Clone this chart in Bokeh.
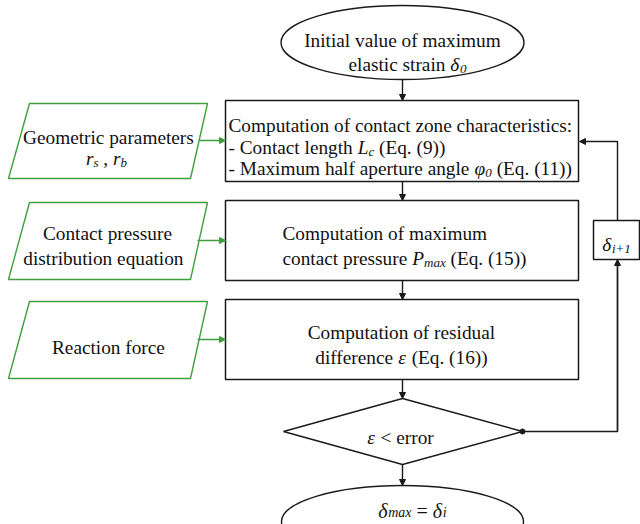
from bokeh.plotting import figure
from bokeh.models import Arrow, NormalHead, ColumnDataSource
from bokeh.core.properties import value
from bokeh.embed import file_html
from bokeh.resources import INLINE

# ---------------- content ----------------
# text segments: (text, style)  style: n = normal, i = italic, s = italic subscript
start_lines = [[("Initial value of maximum", "n")],
               [("elastic strain ", "n"), ("δ", "i"), ("0", "s")]]
box1_lines = [[("Computation of contact zone characteristics:", "n")],
              [("- Contact length ", "n"), ("L", "i"), ("c", "s"), (" (Eq. (9))", "n")],
              [("- Maximum half aperture angle ", "n"), ("φ", "i"), ("0", "s"), (" (Eq. (11))", "n")]]
box2_lines = [[("Computation of maximum", "n")],
              [("contact pressure ", "n"), ("P", "i"), ("max", "s"), (" (Eq. (15))", "n")]]
box3_lines = [[("Computation of residual", "n")],
              [("difference ", "n"), ("ε", "i"), (" (Eq. (16))", "n")]]
cond_lines = [[("ε", "i"), (" < error", "n")]]
end_lines = [[("δ", "i"), ("max", "s"), (" = ", "n"), ("δ", "i"), ("i", "s")]]
update_lines = [[("δ", "i"), ("i+1", "s")]]
input1_lines = [[("Geometric parameters", "n")],
                [("r", "i"), ("s", "s"), (" , ", "n"), ("r", "i"), ("b", "s")]]
input2_lines = [[("Contact pressure", "n")], [("distribution equation", "n")]]
input3_lines = [[("Reaction force", "n")]]

# ---------------- approximate Times advance widths (1/1000 em) ----------------
W_N = dict(zip(" ()+,-.:<=0123456789", [250, 333, 333, 564, 250, 333, 250, 278, 564, 564] + [500] * 10))
W_N.update(dict(zip("abcdefghijklmnopqrstuvwxyz",
                    [444, 500, 444, 500, 444, 333, 500, 500, 278, 278, 500, 278, 778,
                     500, 500, 500, 500, 333, 389, 278, 500, 500, 722, 500, 500, 444])))
W_N.update({"C": 667, "E": 611, "G": 722, "I": 333, "M": 889, "P": 556, "R": 667})
W_I = dict(zip(" ()+,.0123456789", [250, 333, 333, 675, 250, 250] + [500] * 10))
W_I.update(dict(zip("abcimrsx", [500, 500, 444, 278, 722, 389, 389, 444])))
W_I.update({"L": 556, "P": 611, "δ": 500, "φ": 560, "ε": 440})

# ---------------- layout (pixel space of the 640x524 page) ----------------
FONT = "Liberation Serif"
MAIN, SUB, DROP = 19.3, 13.0, 4.0

# per block: (lines, [(anchor x, baseline y, align)], main size, sub size, sub drop)
blocks = [
    (start_lines, [(402, 40, "center"), (348, 64, "left")], MAIN, SUB, DROP),
    (box1_lines, [(228, 125, "left"), (228, 147, "left"), (228, 168, "left")], MAIN, SUB, DROP),
    (box2_lines, [(282, 233, "left"), (282, 258, "left")], MAIN, SUB, DROP),
    (box3_lines, [(401, 332, "center"), (401, 357, "center")], MAIN, SUB, DROP),
    (cond_lines, [(400, 437, "center")], MAIN, SUB, DROP),
    (end_lines, [(412, 510, "center")], 20.0, 14.0, 2.0),
    (update_lines, [(616, 244, "center")], MAIN, SUB, DROP),
    (input1_lines, [(108, 137, "center"), (106, 158, "center")], MAIN, SUB, DROP),
    (input2_lines, [(107, 233, "center"), (103, 258, "center")], MAIN, SUB, DROP),
    (input3_lines, [(108, 347, "center")], MAIN, SUB, DROP),
]

p = figure(width=640, height=524, x_range=(0, 640), y_range=(524, 0),
           output_backend="svg", toolbar_location=None, min_border=0,
           x_axis_location=None, y_axis_location=None)
p.grid.visible = False
p.outline_line_color = None
p.background_fill_color = "white"

BLACK = "#1a1a1a"
GREEN = "#3f9f3f"

# shapes
p.ellipse(x=[402], y=[42], width=[243], height=[74], fill_color="white",
          line_color=BLACK, line_width=1.4)
p.ellipse(x=[402], y=[521], width=[242], height=[72], fill_color="white",
          line_color=BLACK, line_width=1.4)
p.quad(left=[225, 225, 225, 593], right=[578, 578, 578, 639],
       top=[100, 200, 299, 220], bottom=[181, 280, 379, 259],
       fill_color="white", line_color=BLACK, line_width=1.5)
p.patch(x=[402, 522, 402, 283], y=[398, 431, 464, 431], fill_color="white",
        line_color=BLACK, line_width=1.4)
p.patches(xs=[[29, 207, 190, 8], [29, 207, 190, 8], [29, 207, 190, 8]],
          ys=[[103, 103, 178, 178], [202, 202, 279, 279], [301, 301, 378, 378]],
          fill_color="white", line_color=GREEN, line_width=1.4)

# feedback path
p.line(x=[522, 617, 617], y=[431, 431, 263], line_color=BLACK, line_width=1.4)
p.line(x=[617, 617, 582], y=[220, 141, 141], line_color=BLACK, line_width=1.4)
p.scatter(x=[522], y=[431], size=5, color=BLACK)


# arrows
def add_arrows(xs0, ys0, xs1, ys1, color):
    src = ColumnDataSource(dict(x0=xs0, y0=ys0, x1=xs1, y1=ys1))
    p.add_layout(Arrow(end=NormalHead(size=6, fill_color=color, line_color=color),
                       x_start="x0", y_start="y0", x_end="x1", y_end="y1",
                       source=src, line_color=color, line_width=1.4))


add_arrows([402, 402, 402, 402, 402, 617, 584],
           [79, 181, 280, 379, 464, 431, 141],
           [402, 402, 402, 402, 402, 617, 579],
           [100, 200, 299, 398, 485, 259, 141], BLACK)
add_arrows([199, 197, 197], [140, 240, 339], [225, 225, 225], [140, 240, 339], GREEN)


# text
def seg_w(txt, st, fm, fs):
    table = W_N if st == "n" else W_I
    size = fs if st == "s" else fm
    return sum(table.get(ch, 500) for ch in txt) * size / 1000.0


def draw(lines, pos, fm, fs, drop):
    for segs, (ax, yb, align) in zip(lines, pos):
        total = sum(seg_w(t, s, fm, fs) for t, s in segs)
        x = ax - total / 2.0 if align == "center" else ax
        for txt, st in segs:
            lead = txt[:len(txt) - len(txt.lstrip(" "))]
            core = txt.strip(" ")
            y = yb + (drop if st == "s" else 0)
            if core:
                p.text(x=[x + seg_w(lead, st, fm, fs)], y=[y], text=[core],
                       text_font=value(FONT),
                       text_font_size="%.1fpx" % (fs if st == "s" else fm),
                       text_font_style="italic" if st in ("i", "s") else "normal",
                       text_align="left", text_baseline="alphabetic",
                       text_color="#111111")
            x += seg_w(txt, st, fm, fs)


for L, P, fm, fs, dr in blocks:
    draw(L, P, fm, fs, dr)

open("out.html", "w").write(file_html(p, INLINE))
